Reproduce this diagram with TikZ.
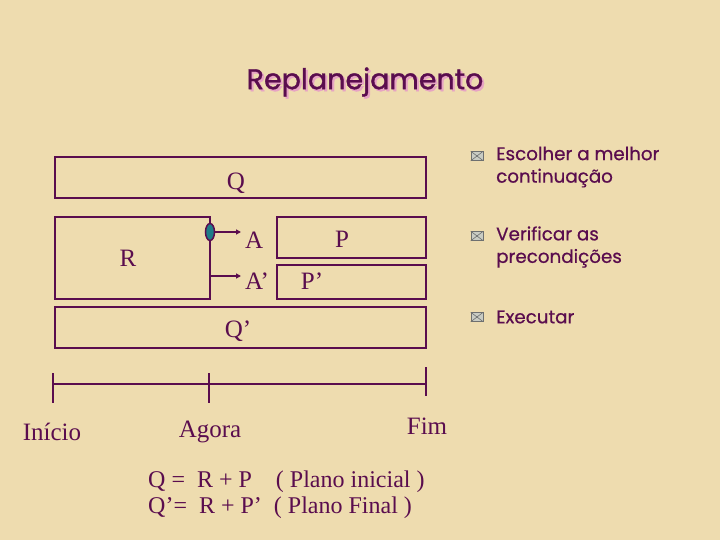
\documentclass[tikz,border=0pt]{standalone}
\usepackage{fontspec}
\setmainfont{Liberation Serif}
\newfontfamily\comicf[FakeBold=0.6]{Poppins}
\newfontfamily\titlef[FakeBold=1.2]{Poppins}
\usetikzlibrary{arrows.meta,shapes.geometric}
\definecolor{bgc}{HTML}{EEDCAF}
\definecolor{ink}{HTML}{5A0D4E}
\definecolor{shade}{HTML}{E7A3C4}
\definecolor{teal}{HTML}{1E7C88}
\definecolor{envf}{HTML}{C9CCC4}
\definecolor{envd}{HTML}{6E7070}
\tikzset{
  box/.style={draw=ink, line width=1.6pt, inner sep=0pt},
  lbl/.style={text=ink, font=\fontsize{25}{28}\selectfont, inner sep=1pt},
  eq/.style={text=ink, font=\fontsize{24}{27}\selectfont, inner sep=0pt, anchor=west},
  arr/.style={draw=ink, line width=1.6pt, -{Triangle[length=5pt,width=5pt]}},
  tl/.style={draw=ink, line width=1.6pt},
  btxt/.style={text=ink, font=\comicf\fontsize{18.3}{22.5}\selectfont, anchor=west, align=left, inner sep=0pt},
  env/.style={draw=envd, fill=envf, line width=0.6pt, minimum width=12pt, minimum height=9pt, inner sep=0pt},
}
\begin{document}
\begin{tikzpicture}[x=1pt,y=-1pt]
\useasboundingbox (0,0) rectangle (720,540);
\fill[bgc] (0,0) rectangle (720,540);
% title with shadow
\node[text=ink, font=\titlef\fontsize{28.5}{34}\selectfont, inner sep=0pt] (title) at (365,83)
  {\rlap{\kern2pt\raisebox{-2pt}{\textcolor{shade}{Replanejamento}}}Replanejamento};
% boxes
\node[box, minimum width=371pt, minimum height=41pt] (Qb) at (240.5,177.5) {};
\node[box, minimum width=155pt, minimum height=82pt] (Rb) at (132.5,258) {};
\node[box, minimum width=149pt, minimum height=41pt] (Pb) at (351.5,237.5) {};
\node[box, minimum width=149pt, minimum height=34pt] (Ppb) at (351.5,282) {};
\node[box, minimum width=371pt, minimum height=41pt] (Qpb) at (240.5,327.5) {};
% labels
\node[lbl] (Ql) at (236,183) {Q};
\node[lbl] (Rl) at (128,258) {R};
\node[lbl] (Pl) at (342,239) {P};
\node[lbl] (Ppl) at (312,281) {P’};
\node[lbl] (Qpl) at (238,331) {Q’};
\node[lbl, anchor=west] (Al) at (244,240) {A};
\node[lbl, anchor=west] (Apl) at (244,281) {A’};
% oval and arrows
\node[draw=ink, fill=teal, line width=1.5pt, ellipse, minimum width=9pt, minimum height=17pt, inner sep=0pt] (ov) at (210,232) {};
\draw[arr] (ov.east) -- ([xshift=-3pt]ov -| Al.west);
\coordinate (rA) at (210,276);
\draw[arr] (rA) -- ([xshift=-3pt]rA -| Apl.west);
% timeline
\coordinate (t0) at (53,384);
\coordinate (t1) at (209,384);
\coordinate (t2) at (426,384);
\draw[tl] (t0) -- (t2);
\draw[tl] (53,373) -- (53,403);
\draw[tl] (209,373) -- (209,403);
\draw[tl] (426,367) -- (426,396);
\node[lbl] (ini) at (52,432) {Início};
\node[lbl] (ago) at (210,432) {Agora};
\node[lbl] (fim) at (427,426) {Fim};
% equations
\node[eq] (e1) at (148,482) {Q =\ \ R + P\ \ \ \ ( Plano inicial )};
\node[eq] (e2) at (148,508) {Q’=\ \ R + P’\ \ ( Plano Final )};
% bullets
\foreach \n/\yy in {b1/156, b2/236, b3/317}{
  \node[env] (\n) at (477,\yy) {};
  \draw[envd, line width=0.6pt] (\n.north west) -- (\n.south east) (\n.north east) -- (\n.south west);
}
\node[btxt] (t1x) at (496,167) {Escolher a melhor\\continuação};
\node[btxt] (t2x) at (496,247) {Verificar as\\precondições};
\node[btxt] (t3x) at (496,317) {Executar};
\end{tikzpicture}
\end{document}
